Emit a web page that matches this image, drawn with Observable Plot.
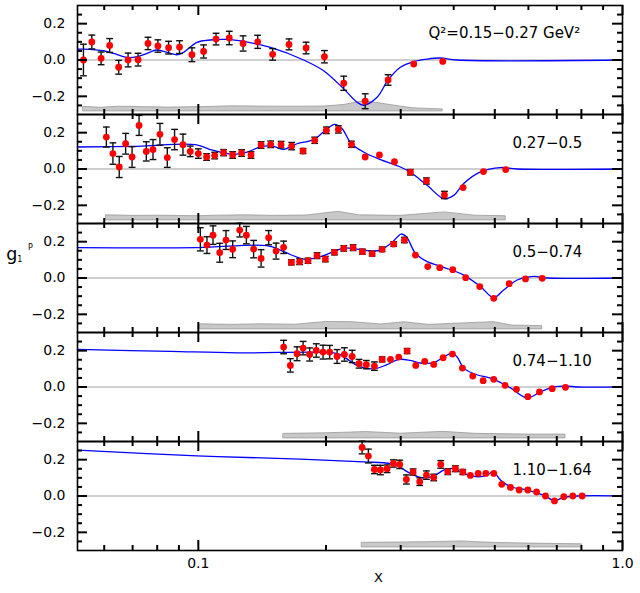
<!DOCTYPE html>
<html><head><meta charset="utf-8">
<script src="https://cdn.jsdelivr.net/npm/d3@7"></script>
<script src="https://cdn.jsdelivr.net/npm/@observablehq/plot@0.6"></script>
<style>body{margin:0;background:#fff} #chart svg{display:block}</style>
</head><body><div id="chart"></div>
<script>
// ---- data: [x, g1p, stat error] ----
const pts1 = [[0.0536,0.000,0.087],[0.0561,0.099,0.038],[0.0590,0.009,0.035],[0.0618,0.080,0.038],[0.0649,-0.040,0.038],[0.0683,0.000,0.038],[0.0721,0.002,0.035],[0.0761,0.091,0.034],[0.0803,0.077,0.034],[0.0851,0.068,0.035],[0.0903,0.071,0.035],[0.0966,0.029,0.038],[0.1029,0.047,0.036],[0.1101,0.115,0.032],[0.1183,0.121,0.037],[0.1275,0.091,0.042],[0.1380,0.100,0.036],[0.1497,0.031,0.032],[0.1636,0.086,0.030],[0.1795,0.066,0.032],[0.1983,0.018,0.034],[0.2202,-0.128,0.039],[0.2474,-0.227,0.041],[0.2802,-0.110,0.029],[0.3220,-0.022,0],[0.3769,-0.008,0]];
const pts2 = [[0.0607,0.176,0.055],[0.0629,0.085,0.059],[0.0651,0.011,0.058],[0.0674,0.139,0.057],[0.0698,0.066,0.057],[0.0725,0.240,0.055],[0.0754,0.097,0.053],[0.0782,0.107,0.055],[0.0812,0.191,0.060],[0.0845,0.063,0.054],[0.0879,0.162,0.056],[0.0920,0.134,0.058],[0.0957,0.097,0.029],[0.1000,0.085,0.026],[0.1046,0.066,0.018],[0.1093,0.074,0.018],[0.1147,0.090,0.017],[0.1205,0.077,0.018],[0.1265,0.088,0.018],[0.1331,0.077,0.018],[0.1406,0.132,0.018],[0.1481,0.136,0.018],[0.1567,0.134,0.018],[0.1660,0.126,0.020],[0.1766,0.099,0.014],[0.1881,0.158,0.017],[0.2004,0.213,0.018],[0.2139,0.218,0.020],[0.2296,0.136,0.017],[0.2474,0.066,0],[0.2673,0.077,0],[0.2900,0.040,0],[0.3162,-0.018,0.015],[0.3450,-0.066,0.017],[0.3804,-0.143,0.020],[0.4210,-0.102,0],[0.4701,-0.014,0],[0.5305,-0.003,0]];
const pts3 = [[0.1011,0.213,0.064],[0.1048,0.181,0.046],[0.1083,0.236,0.051],[0.1123,0.139,0.052],[0.1162,0.209,0.052],[0.1205,0.158,0.046],[0.1252,0.264,0.038],[0.1298,0.236,0.048],[0.1350,0.159,0.048],[0.1406,0.108,0.048],[0.1465,0.222,0.039],[0.1525,0.148,0.044],[0.1589,0.169,0.034],[0.1657,0.086,0.014],[0.1733,0.090,0.016],[0.1814,0.095,0.014],[0.1905,0.123,0.016],[0.1993,0.104,0.015],[0.2094,0.141,0.014],[0.2202,0.163,0.015],[0.2317,0.167,0.016],[0.2437,0.145,0.014],[0.2569,0.134,0.013],[0.2712,0.158,0.013],[0.2888,0.187,0.013],[0.3061,0.209,0.015],[0.3250,0.126,0],[0.3474,0.063,0],[0.3708,0.057,0],[0.3980,0.046,0],[0.4269,0.002,0],[0.4608,-0.047,0],[0.4972,-0.112,0],[0.5405,-0.031,0],[0.5906,-0.005,0],[0.6467,-0.002,0]];
const pts4 = [[0.1589,0.220,0.037],[0.1648,0.119,0.037],[0.1709,0.183,0.038],[0.1766,0.214,0.037],[0.1830,0.179,0.036],[0.1897,0.201,0.037],[0.1968,0.192,0.038],[0.2040,0.192,0.037],[0.2124,0.168,0.038],[0.2210,0.179,0.037],[0.2305,0.168,0.034],[0.2393,0.128,0.024],[0.2490,0.123,0.023],[0.2601,0.115,0.023],[0.2712,0.152,0.014],[0.2838,0.152,0],[0.2968,0.165,0],[0.3106,0.198,0.014],[0.3255,0.119,0],[0.3418,0.141,0],[0.3589,0.124,0],[0.3777,0.161,0],[0.3973,0.181,0],[0.4194,0.104,0],[0.4436,0.060,0],[0.4693,0.035,0],[0.4972,0.042,0],[0.5287,0.009,0],[0.5623,-0.013,0],[0.5982,-0.053,0],[0.6372,-0.027,0],[0.6828,-0.009,0],[0.7339,-0.002,0]];
const pts5 = [[0.2433,0.267,0.035],[0.2517,0.220,0.038],[0.2601,0.146,0.023],[0.2687,0.143,0.026],[0.2786,0.150,0.021],[0.2883,0.179,0.020],[0.2984,0.174,0.023],[0.3094,0.091,0.025],[0.3209,0.132,0.017],[0.3326,0.079,0.021],[0.3450,0.115,0.023],[0.3589,0.102,0.018],[0.3728,0.174,0.021],[0.3873,0.134,0.016],[0.4038,0.150,0.016],[0.4201,0.132,0.014],[0.4379,0.113,0],[0.4568,0.124,0],[0.4762,0.124,0],[0.4972,0.124,0],[0.5192,0.064,0],[0.5444,0.047,0],[0.5705,0.033,0],[0.5982,0.033,0],[0.6271,0.022,0],[0.6583,0.000,0],[0.6912,-0.027,0],[0.7270,-0.004,0],[0.7635,0.000,0],[0.8035,0.000,0]];

// ---- model curves: [x, g1p] ----
const curve1 = [[0.0519,0.060],[0.0536,0.060],[0.0598,0.051],[0.0631,0.036],[0.0679,0.014],[0.0717,0.018],[0.0757,0.036],[0.0796,0.055],[0.0844,0.042],[0.0891,0.029],[0.0923,0.042],[0.0993,0.097],[0.1067,0.110],[0.1169,0.113],[0.1279,0.102],[0.1479,0.069],[0.1771,0.000],[0.1974,-0.059],[0.2202,-0.159],[0.2368,-0.233],[0.2454,-0.249],[0.2639,-0.205],[0.2802,-0.110],[0.2995,-0.040],[0.3220,-0.009],[0.3463,0.005],[0.3723,0.011],[0.4076,0.000],[1.0,0.000]];
const curve2 = [[0.0519,0.121],[0.0717,0.125],[0.0984,0.134],[0.1067,0.107],[0.1201,0.081],[0.1303,0.093],[0.1413,0.125],[0.1505,0.125],[0.1589,0.108],[0.1709,0.139],[0.1870,0.162],[0.1993,0.213],[0.2097,0.246],[0.2183,0.222],[0.2296,0.139],[0.2477,0.088],[0.2687,0.052],[0.2995,0.011],[0.3162,-0.018],[0.3463,-0.090],[0.3789,-0.163],[0.4001,-0.145],[0.4224,-0.080],[0.4625,-0.016],[0.5156,0.008],[0.5646,0.000],[1.0,0.000]];
const curve3 = [[0.0519,0.167],[0.0993,0.167],[0.1452,0.178],[0.1589,0.145],[0.1771,0.104],[0.1905,0.112],[0.2085,0.145],[0.2202,0.165],[0.2368,0.159],[0.2545,0.150],[0.2687,0.154],[0.2863,0.196],[0.3006,0.242],[0.3094,0.227],[0.3250,0.136],[0.3463,0.090],[0.3789,0.059],[0.4224,0.016],[0.4625,-0.047],[0.4972,-0.108],[0.5248,-0.066],[0.5646,-0.011],[0.6177,0.009],[0.6644,0.000],[1.0,0.000]];
const curve4 = [[0.0519,0.207],[0.0859,0.196],[0.1234,0.188],[0.2085,0.188],[0.2163,0.177],[0.2388,0.115],[0.2591,0.100],[0.2786,0.123],[0.2968,0.152],[0.3162,0.146],[0.3338,0.132],[0.3589,0.134],[0.3789,0.165],[0.3967,0.187],[0.4076,0.165],[0.4224,0.104],[0.4461,0.073],[0.4972,0.042],[0.5444,-0.005],[0.5961,-0.060],[0.6406,-0.027],[0.6887,0.000],[0.7406,0.005],[0.7822,0.000],[1.0,0.000]];
const curve5 = [[0.0519,0.253],[0.0993,0.221],[0.1740,0.203],[0.2454,0.188],[0.2838,0.179],[0.2942,0.170],[0.3106,0.134],[0.3338,0.102],[0.3589,0.110],[0.3789,0.143],[0.3988,0.152],[0.4224,0.124],[0.4543,0.106],[0.4797,0.115],[0.4955,0.134],[0.5156,0.088],[0.5444,0.051],[0.5961,0.033],[0.6583,0.000],[0.6887,-0.026],[0.7270,-0.008],[0.7822,0.000],[1.0,0.000]];

// ---- systematic error bands: [x, upper edge] ----
const bandBase = -0.283;
const band1 = [[0.0536,-0.258],[0.0590,-0.263],[0.0649,-0.257],[0.0850,-0.262],[0.1030,-0.259],[0.1200,-0.255],[0.1500,-0.257],[0.1800,-0.257],[0.1980,-0.256],[0.2200,-0.248],[0.2474,-0.226],[0.2800,-0.246],[0.3200,-0.266],[0.3769,-0.272]];
const band2 = [[0.0607,-0.255],[0.0700,-0.258],[0.0800,-0.257],[0.1000,-0.260],[0.1100,-0.257],[0.1300,-0.255],[0.1500,-0.258],[0.1800,-0.256],[0.2139,-0.236],[0.2400,-0.255],[0.3000,-0.258],[0.3804,-0.239],[0.4500,-0.257],[0.5305,-0.260]];
const band3 = [[0.1011,-0.255],[0.1200,-0.258],[0.1400,-0.255],[0.1700,-0.257],[0.2000,-0.242],[0.2300,-0.243],[0.2700,-0.256],[0.3060,-0.244],[0.3500,-0.258],[0.4972,-0.243],[0.5500,-0.262],[0.6467,-0.265]];
const band4 = [[0.1589,-0.258],[0.2000,-0.255],[0.2490,-0.248],[0.3000,-0.257],[0.3780,-0.247],[0.4500,-0.258],[0.6000,-0.262],[0.7339,-0.262]];
const band5 = [[0.2433,-0.258],[0.3000,-0.256],[0.3500,-0.254],[0.4200,-0.250],[0.4500,-0.254],[0.5000,-0.258],[0.6000,-0.262],[0.8035,-0.266]];

const panelLabels = ["Q²=0.15−0.27 GeV²", "0.27−0.5", "0.5−0.74", "0.74−1.10", "1.10−1.64"];
const xMajorTicks = [0.1, 1];
const xMinorTicks = [0.06, 0.07, 0.08, 0.09, 0.2, 0.3, 0.4, 0.5, 0.6, 0.7, 0.8, 0.9];
const yMajorTicks = [-0.2, 0, 0.2];
const yMinorTicks = [-0.25, -0.15, -0.1, -0.05, 0.05, 0.1, 0.15, 0.25];
const xTickLabels = [0.1, 1.0];
const yTickLabels = [-0.2, 0, 0.2];

// ---- build tables ----
const pts = [pts1, pts2, pts3, pts4, pts5].flatMap((a, p) => a.map(([x, y, e]) => ({x, y, e, p})));
const errs = pts.filter(d => d.e > 0);
const curves = [curve1, curve2, curve3, curve4, curve5].flatMap((a, p) => a.map(([x, y]) => ({x, y, p})));
const bands = [band1, band2, band3, band4, band5].flatMap((a, p) => a.map(([x, y]) => ({x, y, b: bandBase, p})));
const labels = panelLabels.map((t, p) => ({t, p}));

const cap = {draw(ctx, size) { const r = Math.sqrt(size / Math.PI); ctx.moveTo(-r, 0); ctx.lineTo(r, 0); }};
const ink = "#111";

// scales and panel geometry
const xDomain = [0.0519, 1], yDomain = [-0.3, 0.3];
const W = 640 - 77 - 18, H = (593 - 5 - 43) / 5;
const yPerPx = (yDomain[1] - yDomain[0]) / H;
const xPerPx = Math.pow(xDomain[1] / xDomain[0], 1 / W);
const tk = {stroke: "black", strokeWidth: 2};
// inward tick marks on all four sides, expressed through the scales
function ticksBottom(t, len) { return Plot.ruleX(t, {x: d => d, y1: yDomain[0], y2: yDomain[0] + len * yPerPx, ...tk}); }
function ticksTop(t, len) { return Plot.ruleX(t, {x: d => d, y1: yDomain[1] - len * yPerPx, y2: yDomain[1], ...tk}); }
function ticksLeft(t, len) { return Plot.ruleY(t, {y: d => d, x1: xDomain[0], x2: xDomain[0] * Math.pow(xPerPx, len), ...tk}); }
function ticksRight(t, len) { return Plot.ruleY(t, {y: d => d, x1: xDomain[1] / Math.pow(xPerPx, len), x2: xDomain[1], ...tk}); }

const chart = Plot.plot({
  width: 640, height: 593,
  marginTop: 5, marginBottom: 43, marginLeft: 77, marginRight: 18,
  style: {fontFamily: "'DejaVu Sans', sans-serif", background: "white", color: "black"},
  x: {type: "log", domain: xDomain},
  y: {domain: yDomain},
  fy: {domain: [0, 1, 2, 3, 4], padding: 0, axis: null},
  marks: [
    Plot.areaY(bands, {x: "x", y1: "b", y2: "y", fy: "p", fill: "#c8c8c8", stroke: "#999", strokeWidth: 0.8}),
    Plot.ruleY([0], {stroke: "#a0a0a0", strokeWidth: 1.2}),
    Plot.line(curves, {x: "x", y: "y", fy: "p", stroke: "#0000ff", strokeWidth: 1.3, curve: "catmull-rom"}),
    Plot.ruleX(errs, {x: "x", y1: d => d.y - d.e, y2: d => d.y + d.e, fy: "p", stroke: ink, strokeWidth: 1.4}),
    Plot.dot(errs, {x: "x", y: d => d.y + d.e, fy: "p", symbol: cap, r: 3.4, stroke: ink, strokeWidth: 1.4}),
    Plot.dot(errs, {x: "x", y: d => d.y - d.e, fy: "p", symbol: cap, r: 3.4, stroke: ink, strokeWidth: 1.4}),
    Plot.dot(pts, {x: "x", y: "y", fy: "p", r: 3.4, fill: "#ff0000"}),
    ticksBottom(xMinorTicks, 5), ticksBottom(xMajorTicks, 10),
    ticksTop(xMinorTicks, 5), ticksTop(xMajorTicks, 10),
    ticksLeft(yMinorTicks, 5), ticksLeft(yMajorTicks, 10),
    ticksRight(yMinorTicks, 5), ticksRight(yMajorTicks, 10),
    Plot.frame({stroke: "black", strokeWidth: 1.6}),
    // tick labels
    Plot.axisY({ticks: yTickLabels, anchor: "left", tickSize: 0, tickPadding: 12, tickFormat: d3.format(".1f"), fontSize: 14, label: null, facetAnchor: null}),
    Plot.axisX({ticks: xTickLabels, anchor: "bottom", tickSize: 0, tickPadding: 8, tickFormat: d3.format(".1f"), fontSize: 14, label: null}),
    // panel labels
    Plot.text(labels.slice(0, 1), {text: "t", fy: "p", frameAnchor: "top-right", textAnchor: "start", dx: -194, dy: 22, fontSize: 15}),
    Plot.text(labels.slice(1), {text: "t", fy: "p", frameAnchor: "top-right", textAnchor: "start", dx: -110, dy: 22.5, fontSize: 15}),
    // axis titles
    Plot.text([{t: "g", p: 2}], {text: "t", fy: "p", frameAnchor: "left", textAnchor: "start", dx: -71.3, dy: -23.2, fontSize: 17.5}),
    Plot.text([{t: "1", p: 2}], {text: "t", fy: "p", frameAnchor: "left", textAnchor: "start", dx: -60.3, dy: -18.5, fontSize: 8}),
    Plot.text([{t: "P", p: 2}], {text: "t", fy: "p", frameAnchor: "left", textAnchor: "start", dx: -49.6, dy: -31, fontSize: 8}),
    Plot.text([{t: "X", p: 4}], {text: "t", fy: "p", frameAnchor: "bottom", dx: 28.5, dy: 31, fontSize: 13})
  ]
});
document.getElementById("chart").appendChild(chart);
</script>
</body></html>
